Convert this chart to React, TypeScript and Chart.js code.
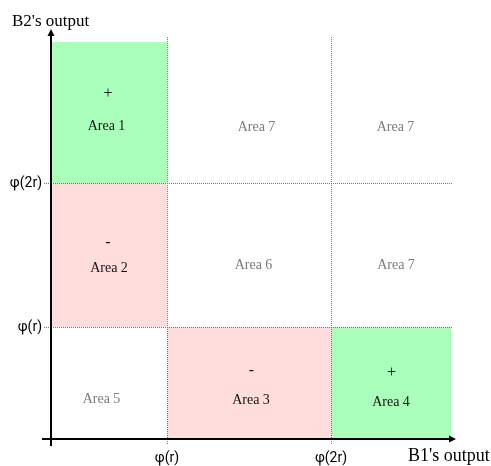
import React, { useEffect, useRef } from 'react';
import { Chart, registerables } from 'chart.js';

Chart.register(...registerables);

// Axis extents (data units)
const xMax = 402;
const yMax = 402;

// Region boundaries along each axis (data units)
const xBounds = [0, 116, 280, 400];
const yBounds = [0, 112, 256, 397];

// Tick marks and their labels
const xTickValues = [116, 280];
const xTickLabels = ['φ(r)', 'φ(2r)'];
const yTickValues = [112, 256];
const yTickLabels = ['φ(r)', 'φ(2r)'];

// Axis titles
const xTitle = "B1's output";
const yTitle = "B2's output";

// Areas: names, grid cell (column, row), sign, kind
const areaNames = ['Area 1', 'Area 2', 'Area 3', 'Area 4', 'Area 5', 'Area 6', 'Area 7', 'Area 7', 'Area 7'];
const areaCols = [0, 0, 1, 2, 0, 1, 1, 2, 2];
const areaRows = [2, 1, 0, 0, 0, 1, 2, 2, 1];
const areaSigns = ['+', '-', '-', '+', '', '', '', '', ''];
const areaKinds = ['pos', 'neg', 'neg', 'pos', 'none', 'none', 'none', 'none', 'none'];
// Label anchor points (data units)
const areaLabelX = [55.5, 58, 200, 340, 50.5, 202.5, 205.5, 344.5, 345];
const areaLabelY = [313, 171, 39, 37, 40, 174, 312, 312, 174];
const areaSignX = [57, 57, 200.5, 340.5, 0, 0, 0, 0, 0];
const areaSignY = [345, 196, 68, 66, 0, 0, 0, 0, 0];

const FILL: Record<string, string | null> = {
  pos: '#aaffbb',
  neg: '#ffdddd',
  none: null,
};

const SERIF = '"Liberation Serif", "Times New Roman", serif';
const SANS = 'Roboto, "Liberation Sans", Arial, sans-serif';

const regionsPlugin = {
  id: 'regions',
  beforeDraw(chart: any) {
    const { ctx, scales } = chart;
    const xs = scales.x;
    const ys = scales.y;
    ctx.save();
    for (let i = 0; i < areaNames.length; i++) {
      const fill = FILL[areaKinds[i]];
      if (!fill) continue;
      const c = areaCols[i];
      const r = areaRows[i];
      const x0 = xs.getPixelForValue(xBounds[c]);
      const x1 = xs.getPixelForValue(xBounds[c + 1]);
      const y0 = ys.getPixelForValue(yBounds[r]);
      const y1 = ys.getPixelForValue(yBounds[r + 1]);
      ctx.fillStyle = fill;
      ctx.fillRect(x0, y1, x1 - x0, y0 - y1);
    }
    ctx.restore();
  },
  afterDraw(chart: any) {
    const { ctx, scales, chartArea } = chart;
    const xs = scales.x;
    const ys = scales.y;
    ctx.save();
    // labels
    ctx.textAlign = 'center';
    ctx.textBaseline = 'middle';
    for (let i = 0; i < areaNames.length; i++) {
      const strong = areaKinds[i] !== 'none';
      ctx.fillStyle = strong ? '#111' : '#7a7a7a';
      ctx.font = `14px ${SERIF}`;
      ctx.fillText(areaNames[i], xs.getPixelForValue(areaLabelX[i]), ys.getPixelForValue(areaLabelY[i]));
      if (areaSigns[i]) {
        ctx.font = `16px ${SERIF}`;
        ctx.fillText(areaSigns[i], xs.getPixelForValue(areaSignX[i]), ys.getPixelForValue(areaSignY[i]));
      }
    }
    // axes
    const ox = xs.getPixelForValue(0);
    const oy = ys.getPixelForValue(0);
    ctx.strokeStyle = '#000';
    ctx.fillStyle = '#000';
    ctx.lineWidth = 2;
    ctx.beginPath();
    ctx.moveTo(ox - 9, oy);
    ctx.lineTo(chartArea.right - 2, oy);
    ctx.moveTo(ox, oy + 7);
    ctx.lineTo(ox, chartArea.top - 2);
    ctx.stroke();
    // arrow heads
    ctx.beginPath();
    ctx.moveTo(chartArea.right + 3, oy);
    ctx.lineTo(chartArea.right - 4, oy - 3.5);
    ctx.lineTo(chartArea.right - 4, oy + 3.5);
    ctx.closePath();
    ctx.fill();
    ctx.beginPath();
    ctx.moveTo(ox, chartArea.top - 8);
    ctx.lineTo(ox - 3.5, chartArea.top - 1);
    ctx.lineTo(ox + 3.5, chartArea.top - 1);
    ctx.closePath();
    ctx.fill();
    // titles
    ctx.textBaseline = 'alphabetic';
    ctx.textAlign = 'left';
    ctx.fillStyle = '#000';
    ctx.font = `17px ${SERIF}`;
    ctx.fillText(yTitle, 12, 26);
    ctx.font = `18px ${SERIF}`;
    ctx.fillText(xTitle, 408, 461);
    ctx.restore();
  },
};

export default function App() {
  const canvasRef = useRef<HTMLCanvasElement | null>(null);

  useEffect(() => {
    const canvas = canvasRef.current;
    if (!canvas) return;
    const gridOpts = {
      color: '#777',
      lineWidth: 1,
      drawOnChartArea: true,
      drawTicks: true,
      tickBorderDash: [1, 1],
    };
    const chart = new Chart(canvas, {
      type: 'scatter',
      data: { datasets: [{ data: [] as any[] }] },
      options: {
        responsive: false,
        animation: false,
        devicePixelRatio: 1,
        layout: { padding: { top: 37, right: 38, left: 0, bottom: 0 } },
        plugins: { legend: { display: false }, tooltip: { enabled: false }, title: { display: false } },
        scales: {
          x: {
            type: 'linear',
            min: 0,
            max: xMax,
            afterBuildTicks: (s: any) => {
              s.ticks = xTickValues.map((v) => ({ value: v }));
            },
            afterFit: (s: any) => {
              s.height = 27;
            },
            grid: { ...gridOpts, tickLength: 6 },
            border: { display: false, dash: [1, 1] },
            ticks: {
              autoSkip: false,
              maxRotation: 0,
              padding: 5,
              color: '#000',
              font: { family: SANS, size: 14 },
              callback: (v: any) => xTickLabels[xTickValues.indexOf(Number(v))] ?? '',
            },
          },
          y: {
            type: 'linear',
            min: 0,
            max: yMax,
            afterBuildTicks: (s: any) => {
              s.ticks = yTickValues.map((v) => ({ value: v }));
            },
            afterFit: (s: any) => {
              s.width = 51;
            },
            grid: { ...gridOpts, tickLength: 7 },
            border: { display: false, dash: [1, 1] },
            ticks: {
              autoSkip: false,
              padding: 2,
              color: '#000',
              font: { family: SANS, size: 14 },
              callback: (v: any) => yTickLabels[yTickValues.indexOf(Number(v))] ?? '',
            },
          },
        },
      },
      plugins: [regionsPlugin],
    });
    return () => chart.destroy();
  }, []);

  return (
    <div style={{ position: 'absolute', left: 0, top: 0, width: 491, height: 466, background: '#fff' }}>
      <canvas ref={canvasRef} width={491} height={466} style={{ display: 'block', width: 491, height: 466 }} />
    </div>
  );
}
